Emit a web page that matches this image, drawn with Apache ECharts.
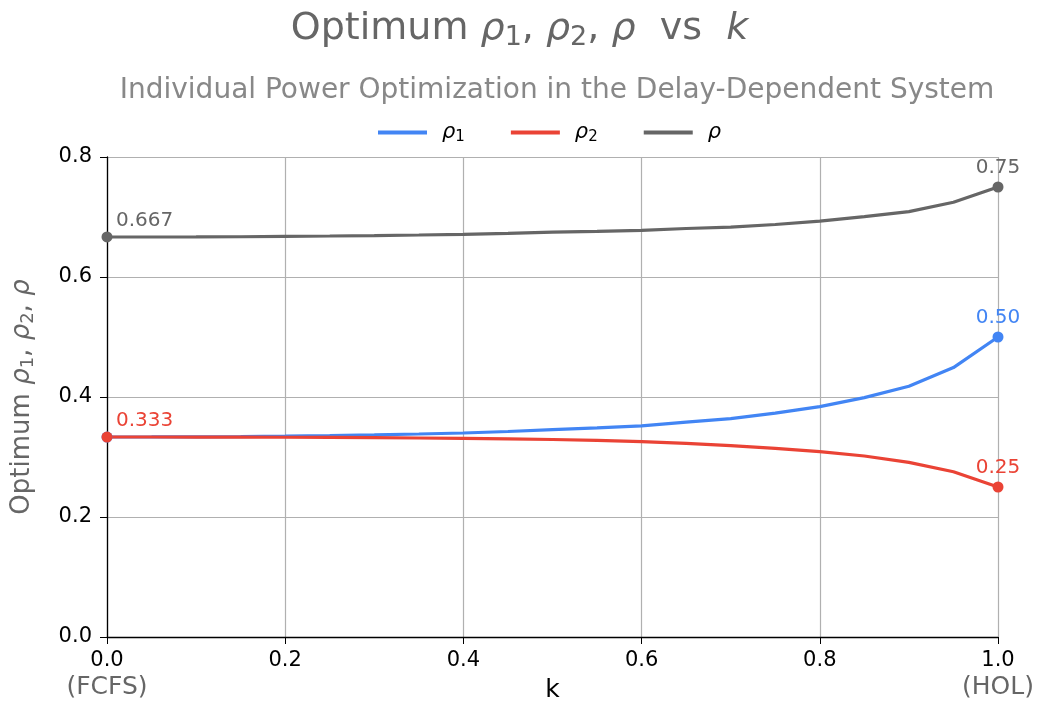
<!DOCTYPE html>
<html>
<head>
<meta charset="utf-8">
<script src="https://cdn.jsdelivr.net/npm/echarts@6/dist/echarts.min.js"></script>
<style>
  html, body { margin: 0; padding: 0; background: #fff; }
  #main { width: 1039px; height: 706px; }
</style>
</head>
<body>
<div id="main"></div>
<script>
// k values from FCFS (0) to HOL (1)
var kList = [0, 0.05, 0.1, 0.15, 0.2, 0.25, 0.3, 0.35, 0.4, 0.45, 0.5,
             0.55, 0.6, 0.65, 0.7, 0.75, 0.8, 0.85, 0.9, 0.95, 1];
var rho1List = [0.3333, 0.3334, 0.3336, 0.3340, 0.3347, 0.3356, 0.3368, 0.3383, 0.3400, 0.3425, 0.3455,
                0.3485, 0.3520, 0.3580, 0.3640, 0.3730, 0.3840, 0.3990, 0.4180, 0.4490, 0.5000];
var rho2List = [0.3333, 0.3333, 0.3332, 0.3331, 0.3329, 0.3326, 0.3322, 0.3317, 0.3310, 0.3302, 0.3292,
                0.3277, 0.3255, 0.3228, 0.3190, 0.3145, 0.3090, 0.3017, 0.2910, 0.2755, 0.2500];
var rhoList = [0.6667, 0.6667, 0.6668, 0.6671, 0.6678, 0.6683, 0.6690, 0.6700, 0.6712, 0.6727, 0.6747,
               0.6762, 0.6778, 0.6808, 0.6830, 0.6875, 0.6930, 0.7007, 0.7090, 0.7245, 0.7500];
var xTicks = ['0.0', '0.2', '0.4', '0.6', '0.8', '1.0'];
var yTicks = ['0.0', '0.2', '0.4', '0.6', '0.8'];

var FONT = 'DejaVu Sans';
var cBlue = '#4285F4', cRed = '#EA4335', cGray = '#666666';

var myChart = echarts.init(document.getElementById('main'));

// rich styles for the math-ish text
function mathRich(size, color) {
    return {
        n: { fontSize: size, color: color, fontFamily: FONT, fontWeight: 'normal' },
        i: { fontSize: size, color: color, fontFamily: FONT, fontWeight: 'normal', fontStyle: 'italic' },
        s: { fontSize: Math.round(size * 0.7), color: color, fontFamily: FONT, fontWeight: 'normal',
             verticalAlign: 'bottom', padding: [Math.round(size * 0.45), 0, 0, 0] }
    };
}

// build data, endpoints get a dot and a value label
function buildData(vals, color, firstLabel, lastLabel) {
    return vals.map(function (v, i) {
        var item = { value: [kList[i], v] };
        var last = i === vals.length - 1;
        if (i === 0 || last) {
            item.symbol = 'circle';
            item.symbolSize = 11;
            item.itemStyle = { color: color };
            var txt = i === 0 ? firstLabel : lastLabel;
            if (txt) {
                item.label = {
                    show: true,
                    formatter: txt,
                    color: color,
                    fontSize: 20,
                    fontFamily: FONT,
                    position: 'top',
                    distance: i === 0 ? 1 : 4,
                    align: i === 0 ? 'left' : 'center',
                    offset: i === 0 ? [9, 0] : [0, 0]
                };
            }
        } else {
            item.symbol = 'none';
        }
        return item;
    });
}

function lineSeries(name, vals, color, firstLabel, lastLabel) {
    return {
        name: name,
        type: 'line',
        showAllSymbol: true,
        lineStyle: { color: color, width: 3.2 },
        itemStyle: { color: color },
        emphasis: { disabled: true },
        data: buildData(vals, color, firstLabel, lastLabel),
        z: 3
    };
}

var option = {
    animation: false,
    backgroundColor: '#fff',
    title: [
        {
            text: '{n|Optimum }{i|ρ}{s|1}{n|, }{i|ρ}{s|2}{n|, }{i|ρ}{n|  vs  }{i|k}',
            left: 'center',
            top: 2,
            textStyle: { fontWeight: 'normal', rich: mathRich(38, cGray) }
        },
        {
            text: 'Individual Power Optimization in the Delay-Dependent System',
            left: 552,
            textAlign: 'center',
            top: 72,
            textStyle: { fontSize: 28, fontWeight: 'normal', color: '#888888', fontFamily: FONT }
        }
    ],
    legend: {
        top: 122,
        left: 378,
        padding: 0,
        itemWidth: 49,
        itemHeight: 4,
        itemGap: 46,
        icon: 'rect',
        selectedMode: false,
        data: ['rho1', 'rho2', 'rho'],
        formatter: function (name) {
            if (name === 'rho1') return '{i|ρ}{s|1}';
            if (name === 'rho2') return '{i|ρ}{s|2}';
            return '{i|ρ}';
        },
        textStyle: { padding: [0, 0, 0, 10], rich: mathRich(21, '#000') }
    },
    grid: { left: 107, right: 41, top: 157, bottom: 69, containLabel: false, outerBoundsMode: 'none' },
    xAxis: {
        type: 'value',
        min: 0, max: 1, interval: 0.2,
        name: 'k',
        nameLocation: 'middle',
        nameGap: 41,
        nameMoveOverlap: false,
        nameTextStyle: { fontSize: 25, color: '#000', fontFamily: FONT },
        axisLine: { show: true, lineStyle: { color: '#000', width: 1.3 } },
        axisTick: { show: true, length: 7, lineStyle: { color: '#000' } },
        axisLabel: {
            margin: 12,
            fontSize: 21,
            color: '#000',
            fontFamily: FONT,
            formatter: function (v) {
                var s = xTicks[Math.round(v * 5)];
                if (v === 0) return s + '\n{g|(FCFS)}';
                if (v === 1) return s + '\n{g|(HOL)}';
                return s;
            },
            lineHeight: 24,
            rich: { g: { fontSize: 25, color: cGray, fontFamily: FONT, lineHeight: 28 } }
        },
        splitLine: { show: true, lineStyle: { color: '#b0b0b0', width: 1.2 } }
    },
    yAxis: {
        type: 'value',
        min: 0, max: 0.8, interval: 0.2,
        name: '{n|Optimum }{i|ρ}{s|1}{n|, }{i|ρ}{s|2}{n|, }{i|ρ}',
        nameLocation: 'middle',
        nameGap: 70,
        nameRotate: 90,
        nameMoveOverlap: false,
        nameTextStyle: { rich: mathRich(26, cGray) },
        axisLine: { show: true, lineStyle: { color: '#000', width: 1.3 } },
        axisTick: { show: true, length: 7, lineStyle: { color: '#000' } },
        axisLabel: {
            margin: 15,
            fontSize: 21,
            color: '#000',
            fontFamily: FONT,
            formatter: function (v) { return yTicks[Math.round(v * 5)]; }
        },
        splitLine: { show: true, lineStyle: { color: '#b0b0b0', width: 1.2 } }
    },
    series: [
        lineSeries('rho1', rho1List, cBlue, null, '0.50'),
        lineSeries('rho2', rho2List, cRed, '0.333', '0.25'),
        lineSeries('rho', rhoList, cGray, '0.667', '0.75')
    ]
};

myChart.setOption(option);
</script>
</body>
</html>
